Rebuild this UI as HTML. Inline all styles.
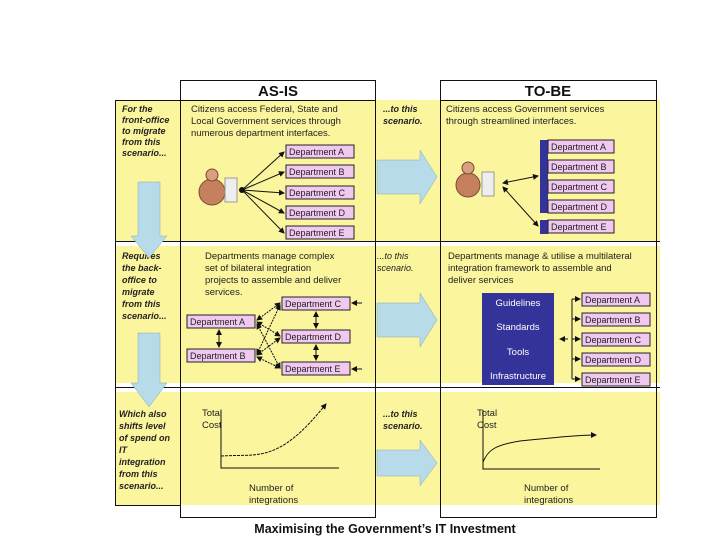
<!DOCTYPE html>
<html><head><meta charset="utf-8"><style>
body{margin:0;background:#fff;width:720px;height:540px;overflow:hidden}
svg{display:block}
text{font-family:"Liberation Sans",sans-serif}
.s{font-size:9.5px;fill:#222}
.i{font-size:9px;font-style:italic;font-weight:bold;fill:#222}
.d{font-size:9px;fill:#222}
.w{font-size:9.5px;fill:#fff}
</style></head><body>
<svg width="720" height="540" viewBox="0 0 720 540">
<defs>
<marker id="ah" markerWidth="6" markerHeight="6" refX="5" refY="3" orient="auto"><path d="M0,0L6,3L0,6z" fill="#111"/></marker>
<marker id="as" markerWidth="6" markerHeight="6" refX="1" refY="3" orient="auto"><path d="M6,0L0,3L6,6z" fill="#111"/></marker>
</defs>
<rect x="115" y="100" width="545" height="141" fill="#fbf59e"/>
<rect x="115" y="246" width="545" height="137" fill="#fbf59e"/>
<rect x="115" y="392" width="545" height="113" fill="#fbf59e"/>
<rect x="180.5" y="80.5" width="195" height="437" fill="none" stroke="#111"/>
<rect x="440.5" y="80.5" width="216" height="437" fill="none" stroke="#111"/>
<line x1="180" y1="100.5" x2="376" y2="100.5" stroke="#111"/>
<line x1="440" y1="100.5" x2="657" y2="100.5" stroke="#111"/>
<text x="278" y="96" text-anchor="middle" style="font-size:15px;font-weight:bold;fill:#111">AS-IS</text>
<text x="548" y="96" text-anchor="middle" style="font-size:15px;font-weight:bold;fill:#111">TO-BE</text>
<line x1="115" y1="100.5" x2="180" y2="100.5" stroke="#111"/>
<line x1="115" y1="241.5" x2="660" y2="241.5" stroke="#111"/>
<line x1="115" y1="387.5" x2="660" y2="387.5" stroke="#111"/>
<line x1="115" y1="505.5" x2="180" y2="505.5" stroke="#111"/>
<line x1="115.5" y1="100" x2="115.5" y2="506" stroke="#111"/>
<g class="i">
<text x="122" y="112">For the</text><text x="122" y="123">front-office</text><text x="122" y="134">to migrate</text><text x="122" y="145">from this</text><text x="122" y="156">scenario...</text>
<text x="122" y="259">Requires</text><text x="122" y="271">the back-</text><text x="122" y="283">office to</text><text x="122" y="295">migrate</text><text x="122" y="307">from this</text><text x="122" y="319">scenario...</text>
<text x="119" y="417">Which also</text><text x="119" y="429">shifts level</text><text x="119" y="441">of spend on</text><text x="119" y="453">IT</text><text x="119" y="465">integration</text><text x="119" y="477">from this</text><text x="119" y="489">scenario...</text>
<text x="383" y="112">...to this</text><text x="383" y="124">scenario.</text>
<text x="377" y="259" style="font-weight:normal">...to this</text><text x="377" y="271" style="font-weight:normal">scenario.</text>
<text x="383" y="417">...to this</text><text x="383" y="429">scenario.</text>
</g>
<g fill="#b7dbe8" stroke="#8ab" stroke-width="0.5">
<path d="M138,182H160V236H167L149,258L131,236H138Z"/>
<path d="M138,333H160V383H167L149,407L131,383H138Z"/>
<path d="M377,160H420V150L437,177L420,204V194H377Z"/>
<path d="M377,303H420V293L437,320L420,347V337H377Z"/>
<path d="M377,450H420V440L437,463L420,486V476H377Z"/>
</g>
<g class="s"><text x="191" y="112">Citizens access Federal, State and</text><text x="191" y="124">Local Government services through</text><text x="191" y="136">numerous department interfaces.</text></g>
<g fill="#f0c8f0" stroke="#222">
<rect x="286" y="145" width="68" height="13"/><rect x="286" y="165" width="68" height="13"/><rect x="286" y="186" width="68" height="13"/><rect x="286" y="206" width="68" height="13"/><rect x="286" y="226" width="68" height="13"/>
</g>
<g class="d"><text x="289" y="155">Department A</text><text x="289" y="175">Department B</text><text x="289" y="196">Department C</text><text x="289" y="216">Department D</text><text x="289" y="236">Department E</text></g>
<g stroke="#111" fill="none" marker-end="url(#ah)">
<line x1="242" y1="190" x2="284" y2="152"/><line x1="242" y1="190" x2="284" y2="172"/><line x1="242" y1="190" x2="284" y2="193"/><line x1="242" y1="190" x2="284" y2="213"/><line x1="242" y1="190" x2="284" y2="233"/>
</g>
<circle cx="242" cy="190" r="3" fill="#111"/>
<g><circle cx="212" cy="192" r="13" fill="#c58060" stroke="#7a4a30"/><circle cx="212" cy="175" r="6" fill="#d9a080" stroke="#7a4a30"/><rect x="225" y="178" width="12" height="24" fill="#eee" stroke="#999"/></g>
<g class="s"><text x="446" y="112">Citizens access Government services</text><text x="446" y="124">through streamlined interfaces.</text></g>
<rect x="540" y="140" width="8" height="73" fill="#33339a"/>
<rect x="540" y="220" width="8" height="14" fill="#33339a"/>
<g fill="#f0c8f0" stroke="#222"><rect x="548" y="140" width="66" height="13"/><rect x="548" y="160" width="66" height="13"/><rect x="548" y="180" width="66" height="13"/><rect x="548" y="200" width="66" height="13"/><rect x="548" y="220" width="66" height="13"/></g>
<g class="d"><text x="551" y="150">Department A</text><text x="551" y="170">Department B</text><text x="551" y="190">Department C</text><text x="551" y="210">Department D</text><text x="551" y="230">Department E</text></g>
<g stroke="#111" marker-end="url(#ah)" marker-start="url(#as)"><line x1="503" y1="183" x2="538" y2="176"/><line x1="503" y1="187" x2="538" y2="226"/></g>
<g><circle cx="468" cy="185" r="12" fill="#c58060" stroke="#7a4a30"/><circle cx="468" cy="168" r="6" fill="#d9a080" stroke="#7a4a30"/><rect x="482" y="172" width="12" height="24" fill="#eee" stroke="#999"/></g>
<g class="s"><text x="205" y="259">Departments manage complex</text><text x="205" y="271">set of bilateral integration</text><text x="205" y="283">projects to assemble and deliver</text><text x="205" y="295">services.</text></g>
<g fill="#f0c8f0" stroke="#222"><rect x="187" y="315" width="68" height="13"/><rect x="187" y="349" width="68" height="13"/><rect x="282" y="297" width="68" height="13"/><rect x="282" y="330" width="68" height="13"/><rect x="282" y="362" width="68" height="13"/></g>
<g class="d"><text x="190" y="325">Department A</text><text x="190" y="359">Department B</text><text x="285" y="307">Department C</text><text x="285" y="340">Department D</text><text x="285" y="372">Department E</text></g>
<g stroke="#111" stroke-dasharray="2,1" marker-end="url(#ah)" marker-start="url(#as)">
<line x1="257" y1="320" x2="280" y2="303"/><line x1="257" y1="322" x2="280" y2="336"/><line x1="257" y1="324" x2="280" y2="368"/>
<line x1="257" y1="354" x2="280" y2="305"/><line x1="257" y1="355" x2="280" y2="338"/><line x1="257" y1="357" x2="280" y2="368"/>
</g>
<g stroke="#111" marker-end="url(#ah)" marker-start="url(#as)"><line x1="219" y1="330" x2="219" y2="347"/><line x1="316" y1="312" x2="316" y2="328"/><line x1="316" y1="345" x2="316" y2="360"/></g>
<g stroke="#111" marker-end="url(#ah)"><line x1="362" y1="303" x2="352" y2="303"/><line x1="362" y1="369" x2="352" y2="369"/></g>
<g class="s"><text x="448" y="259">Departments manage &amp; utilise a multilateral</text><text x="448" y="271">integration framework to assemble and</text><text x="448" y="283">deliver services</text></g>
<rect x="482" y="293" width="72" height="92" fill="#33339a"/>
<g class="w" text-anchor="middle"><text x="518" y="306">Guidelines</text><text x="518" y="330">Standards</text><text x="518" y="355">Tools</text><text x="518" y="379">Infrastructure</text></g>
<g fill="#f0c8f0" stroke="#222"><rect x="582" y="293" width="68" height="13"/><rect x="582" y="313" width="68" height="13"/><rect x="582" y="333" width="68" height="13"/><rect x="582" y="353" width="68" height="13"/><rect x="582" y="373" width="68" height="13"/></g>
<g class="d"><text x="585" y="303">Department A</text><text x="585" y="323">Department B</text><text x="585" y="343">Department C</text><text x="585" y="363">Department D</text><text x="585" y="383">Department E</text></g>
<line x1="572" y1="299" x2="572" y2="379" stroke="#111"/>
<g stroke="#111" marker-end="url(#ah)"><line x1="572" y1="299" x2="580" y2="299"/><line x1="572" y1="319" x2="580" y2="319"/><line x1="572" y1="339" x2="580" y2="339"/><line x1="572" y1="359" x2="580" y2="359"/><line x1="572" y1="379" x2="580" y2="379"/><line x1="568" y1="339" x2="560" y2="339"/></g>
<g class="s"><text x="202" y="416">Total</text><text x="202" y="428">Cost</text><text x="249" y="491">Number of</text><text x="249" y="503">integrations</text>
<text x="477" y="416">Total</text><text x="477" y="428">Cost</text><text x="524" y="491">Number of</text><text x="524" y="503">integrations</text></g>
<g stroke="#111" fill="none">
<polyline points="221,410 221,468 339,468"/>
<path d="M221,456C240,455 250,456 260,454C285,450 305,430 326,404" stroke-dasharray="3,1" marker-end="url(#ah)"/>
<polyline points="483,410 483,469 600,469"/>
<path d="M483,462C488,450 495,445 520,441C560,437 580,435 596,435" marker-end="url(#ah)"/>
</g>
<text x="385" y="533" text-anchor="middle" style="font-size:12.5px;font-weight:bold;fill:#111">Maximising the Government’s IT Investment</text>
</svg>
</body></html>
